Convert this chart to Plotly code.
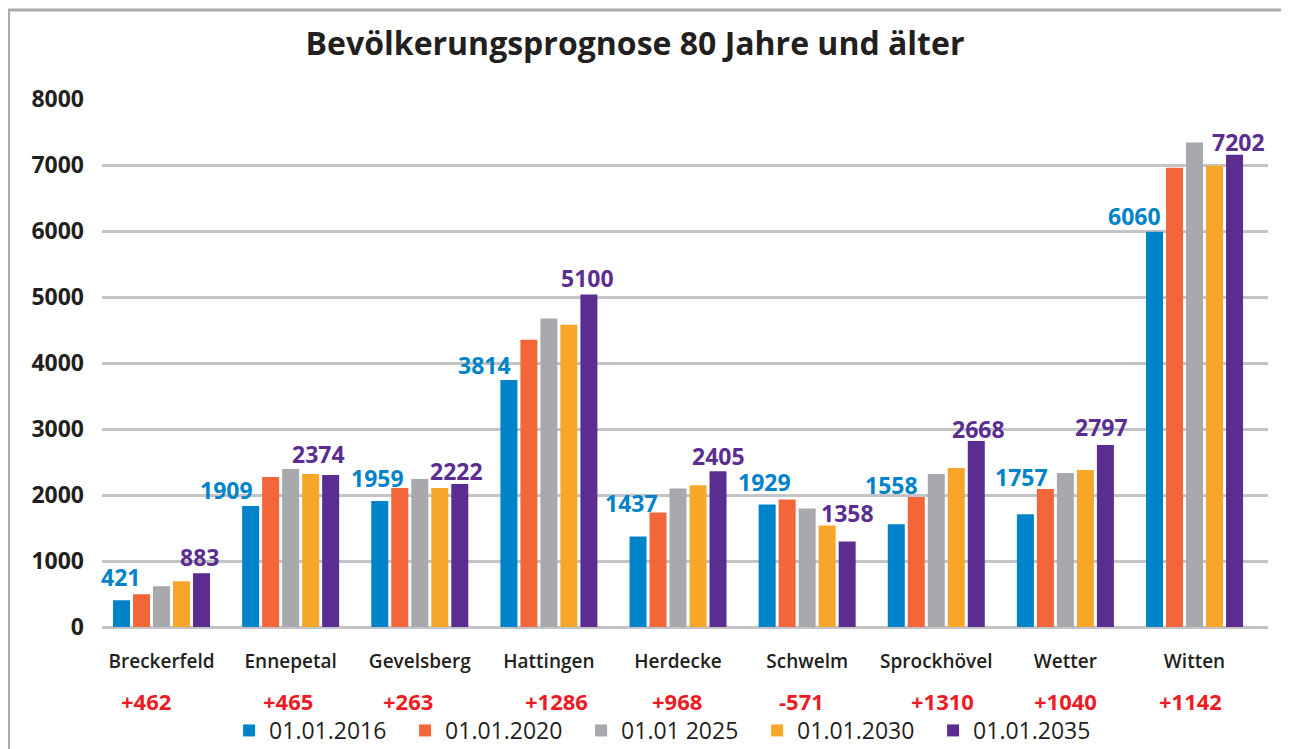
import plotly.graph_objects as go

categories = ["Breckerfeld", "Ennepetal", "Gevelsberg", "Hattingen", "Herdecke",
              "Schwelm", "Sprockhövel", "Wetter", "Witten"]
series_names = ["01.01.2016", "01.01.2020", "01.01 2025", "01.01.2030", "01.01.2035"]

v2016 = [405, 1832, 1908, 3744, 1370, 1857, 1558, 1710, 5989]
v2020 = [496, 2272, 2105, 4353, 1735, 1933, 1968, 2090, 6960]
v2025 = [618, 2393, 2241, 4673, 2100, 1796, 2317, 2332, 7340]
v2030 = [693, 2317, 2105, 4581, 2146, 1537, 2408, 2378, 6990]
v2035 = [815, 2302, 2166, 5038, 2359, 1294, 2818, 2757, 7157]
series_values = [v2016, v2020, v2025, v2030, v2035]

first_labels = ["421", "1909", "1959", "3814", "1437", "1929", "1558", "1757", "6060"]
last_labels = ["883", "2374", "2222", "5100", "2405", "1358", "2668", "2797", "7202"]
change_labels = ["+462", "+465", "+263", "+1286", "+968", "-571", "+1310", "+1040", "+1142"]

y_ticks = [0, 1000, 2000, 3000, 4000, 5000, 6000, 7000, 8000]

# styles
colors = ["#0083c9", "#f26639", "#a7a9ac", "#f8a629", "#5c2d91"]
label_red = "#ed1c24"
dark = "#231f20"
FONT = "Open Sans"

# label placement tweaks (pixels)
first_dx = [-1, -24, -2, -24, -7, -3, -5, -4, -20]
first_dy = [23, 16, 23, 15, 34, 22, 39, 37, 16]
last_dx = [-2, -12, -3, -1, 0, 0, 2, -4, 4]
last_dy = [16, 21, 13, 16, 15, 29, 12, 18, 13]
change_dx = [-16, -3, -12, 8, -1, -6, 6, 0, -4]

bargap = 0.2254
bargroupgap = 0.15

# the page body adds an 8px offset, so the figure is 8px smaller each way
W, H = 1281, 741

fig = go.Figure()
for name, vals, col in zip(series_names, series_values, colors):
    fig.add_trace(go.Bar(x=categories, y=vals, name=name, marker_color=col,
                         marker_line_width=0, hoverinfo="x+y+name"))

slot = (1 - bargap) / 5
annotations = []
for i in range(len(categories)):
    annotations.append(dict(
        x=i - 2 * slot, y=v2016[i], xref="x", yref="y", text=first_labels[i],
        showarrow=False, xanchor="center", yanchor="middle",
        xshift=first_dx[i], yshift=first_dy[i],
        font=dict(family=FONT, size=23, color=colors[0], weight="bold")))
    annotations.append(dict(
        x=i + 2 * slot, y=v2035[i], xref="x", yref="y", text=last_labels[i],
        showarrow=False, xanchor="center", yanchor="middle",
        xshift=last_dx[i], yshift=last_dy[i],
        font=dict(family=FONT, size=23, color=colors[4], weight="bold")))
    annotations.append(dict(
        x=i, y=-0.1400, xref="x", yref="paper", text=change_labels[i],
        showarrow=False, xanchor="center", yanchor="middle", xshift=change_dx[i],
        font=dict(family=FONT, size=22, color=label_red, weight="bold")))

fig.update_layout(
    width=W, height=H,
    margin=dict(l=94, r=21, t=91, b=122, pad=0, autoexpand=False),
    paper_bgcolor="white", plot_bgcolor="white",
    title=dict(text="Bevölkerungsprognose 80 Jahre und älter",
               x=627 / W, xref="container", xanchor="center",
               y=1 - 36 / H, yref="container", yanchor="middle",
               font=dict(family=FONT, size=32, color=dark, weight="bold")),
    barmode="group", bargap=bargap, bargroupgap=bargroupgap,
    xaxis=dict(range=[-0.461, 8.569], showgrid=False, zeroline=False,
               showline=False, ticks="", ticklabelstandoff=21,
               tickfont=dict(family=FONT, size=19, color=dark, weight=600)),
    yaxis=dict(range=[0, 8000], tickvals=y_ticks, showgrid=True,
               gridcolor="#c4c4c6", gridwidth=3, zeroline=True,
               zerolinecolor="#c4c4c6", zerolinewidth=3, showline=False,
               ticks="", ticklabelstandoff=17,
               tickfont=dict(family=FONT, size=23, color=dark, weight="bold")),
    legend=dict(orientation="h", x=0.109, xanchor="left", y=-0.196,
                yanchor="middle", font=dict(family=FONT, size=23, color=dark),
                entrywidth=131, entrywidthmode="pixels",
                itemclick=False, bgcolor="rgba(0,0,0,0)"),
    annotations=annotations,
    shapes=[dict(type="rect", xref="paper", yref="paper",
                 x0=-0.0802, x1=1.0172, y0=-0.35, y1=1.1687,
                 line=dict(color="#ababab", width=3), layer="below")],
)

fig.write_html("out.html")
